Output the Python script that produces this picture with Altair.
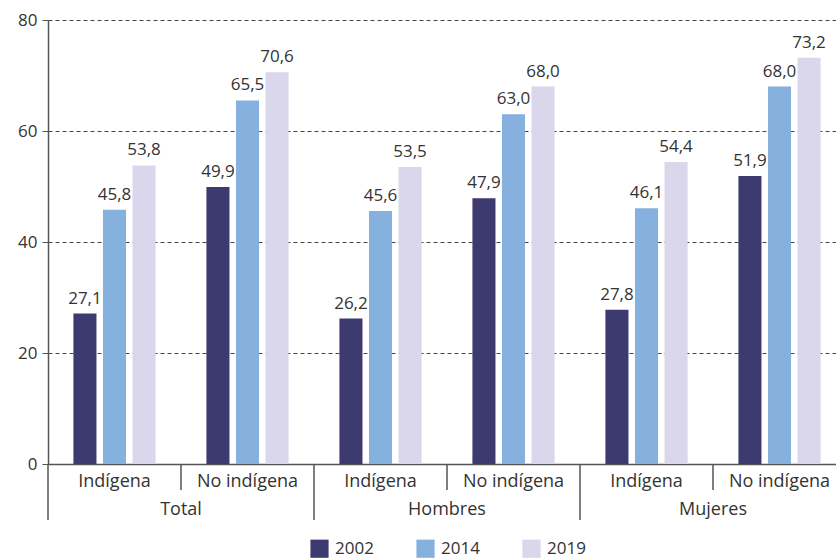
import altair as alt
import pandas as pd

groups = ["Total", "Hombres", "Mujeres"]
subgroups = ["Indígena", "No indígena"]
years = ["2002", "2014", "2019"]
colors = ["#3d3a70", "#86b1de", "#dad6ec"]

# values per group, subgroup order: Indígena then No indígena; years 2002, 2014, 2019
total = [[27.1, 45.8, 53.8], [49.9, 65.5, 70.6]]
hombres = [[26.2, 45.6, 53.5], [47.9, 63.0, 68.0]]
mujeres = [[27.8, 46.1, 54.4], [51.9, 68.0, 73.2]]

FONT = "Open Sans"
W, H = 786, 444
XRANGE = 798  # band range runs a little past the right edge of the view

rows = []
for g, block in zip(groups, [total, hombres, mujeres]):
    for s, vals in zip(subgroups, block):
        for y, v in zip(years, vals):
            rows.append({"group": g, "sub": s, "key": f"{g}|{s}", "year": y, "value": v})
df = pd.DataFrame(rows)
keys = [f"{g}|{s}" for g in groups for s in subgroups]

xscale = alt.Scale(domain=keys, paddingInner=0, paddingOuter=0, range=[0, XRANGE])
offscale = alt.Scale(domain=years, paddingInner=0.22, paddingOuter=0.86)

x_enc = alt.X(
    "key:N",
    scale=xscale,
    sort=keys,
    axis=alt.Axis(
        title=None,
        labelExpr="split(datum.label, '|')[1]",
        labelAngle=0,
        ticks=False,
        labelPadding=8,
        labelFontSize=18,
        labelColor="#333333",
        domainColor="#555555",
        domainWidth=1.5,
        grid=False,
    ),
)

bars = alt.Chart(df).mark_bar().encode(
    x=x_enc,
    xOffset=alt.XOffset("year:N", scale=offscale),
    y=alt.Y(
        "value:Q",
        scale=alt.Scale(domain=[0, 80]),
        axis=alt.Axis(
            title=None,
            values=[0, 20, 40, 60, 80],
            gridDash=[4, 3],
            gridColor="#444444",
            gridWidth=1,
            tickColor="#555555",
            tickSize=6,
            domainColor="#555555",
            domainWidth=1.5,
            labelFontSize=17,
            labelColor="#333333",
            labelPadding=5,
        ),
    ),
    color=alt.Color(
        "year:N",
        scale=alt.Scale(domain=years, range=colors),
        legend=alt.Legend(
            title=None,
            orient="none",
            direction="horizontal",
            legendX=262,
            legendY=519,
            symbolType="square",
            symbolSize=330,
            symbolStrokeWidth=0,
            symbolOpacity=1,
            labelFontSize=17,
            labelColor="#333333",
            columnPadding=42,
            labelOffset=6,
        ),
    ),
)

labels = alt.Chart(df).transform_calculate(
    txt="replace(format(datum.value, '.1f'), '.', ',')"
).mark_text(baseline="bottom", dy=-6, fontSize=17, color="#333333").encode(
    x=alt.X("key:N", scale=xscale, sort=keys),
    xOffset=alt.XOffset("year:N", scale=offscale),
    y="value:Q",
    text="txt:N",
)

# separator lines below the axis: short between subgroups, long between groups
seps = pd.DataFrame(
    [{"key": k, "len": (26 if k.endswith("No indígena") else 56)} for k in keys]
)
short_rules = alt.Chart(seps[seps["len"] == 26]).mark_rule(
    color="#555555", strokeWidth=1.5
).encode(
    x=alt.X("key:N", scale=xscale, sort=keys, bandPosition=0),
    y=alt.value(H),
    y2=alt.value(H + 26),
)
long_rules = alt.Chart(seps[seps["len"] == 56]).mark_rule(
    color="#555555", strokeWidth=1.5
).encode(
    x=alt.X("key:N", scale=xscale, sort=keys, bandPosition=0),
    y=alt.value(H),
    y2=alt.value(H + 56),
)

group_df = pd.DataFrame({"group": groups, "key": [f"{g}|No indígena" for g in groups]})
group_text = alt.Chart(group_df).mark_text(
    fontSize=18, color="#333333", baseline="middle"
).encode(
    x=alt.X("key:N", scale=xscale, sort=keys, bandPosition=0),
    y=alt.value(H + 46),
    text="group:N",
)

chart = (
    alt.layer(bars, labels, short_rules, long_rules, group_text)
    .properties(
        width=W,
        height=H,
        autosize=alt.AutoSizeParams(type="none"),
        padding={"left": 48, "top": 20, "right": 2, "bottom": 94},
    )
    .configure(font=FONT)
    .configure_view(stroke=None)
)

chart.save("out.html", embed_options={"renderer": "svg", "actions": False})
